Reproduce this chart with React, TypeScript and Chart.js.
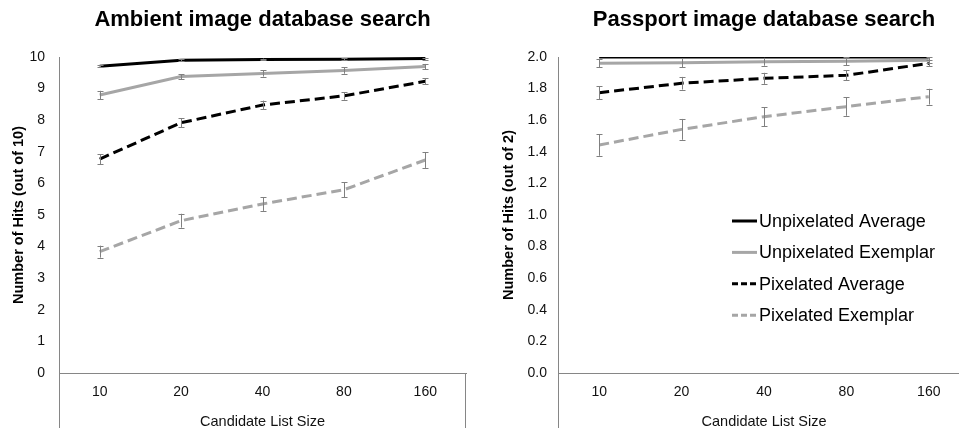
import React, { useEffect, useRef } from "react";
import { Chart, registerables } from "chart.js";

Chart.register(...registerables);

// ---------- data ----------
const categories = ["10", "20", "40", "80", "160"];
const seriesLabels = [
  "Unpixelated Average",
  "Unpixelated Exemplar",
  "Pixelated Average",
  "Pixelated Exemplar",
];

const ambientUnpixAvg = [9.71, 9.9, 9.92, 9.93, 9.95];
const ambientUnpixAvgErr = [0.04, 0.03, 0.03, 0.03, 0.03];
const ambientUnpixEx = [8.8, 9.38, 9.48, 9.57, 9.7];
const ambientUnpixExErr = [0.13, 0.08, 0.1, 0.1, 0.08];
const ambientPixAvg = [6.77, 7.92, 8.48, 8.77, 9.23];
const ambientPixAvgErr = [0.16, 0.15, 0.14, 0.12, 0.1];
const ambientPixEx = [3.84, 4.82, 5.35, 5.8, 6.74];
const ambientPixExErr = [0.19, 0.22, 0.22, 0.24, 0.25];

const passportUnpixAvg = [2.0, 2.0, 2.0, 2.0, 2.0];
const passportUnpixAvgErr = [0, 0, 0, 0, 0];
const passportUnpixEx = [1.96, 1.964, 1.97, 1.973, 1.98];
const passportUnpixExErr = [0.026, 0.028, 0.025, 0.025, 0.02];
const passportPixAvg = [1.774, 1.834, 1.865, 1.884, 1.96];
const passportPixAvgErr = [0.042, 0.04, 0.035, 0.032, 0.02];
const passportPixEx = [1.443, 1.542, 1.622, 1.686, 1.749];
const passportPixExErr = [0.068, 0.066, 0.06, 0.058, 0.05];

const ambientTickMax = 10;
const ambientTickStep = 1;
const passportTickMax = 2;
const passportTickStep = 0.2;

// ---------- styles ----------
const FONT = "'Liberation Sans', Arial, Helvetica, sans-serif";
const GRAY = "#a6a6a6";
const AXIS = "#868686";
const ERR = "#808080";
const seriesStyles = [
  { color: "#000000", dash: [] as number[] },
  { color: GRAY, dash: [] as number[] },
  { color: "#000000", dash: [10, 5] },
  { color: GRAY, dash: [10, 5] },
];

function buildDatasets(values: number[][], errors: number[][]) {
  return values.map((v, i) => ({
    label: seriesLabels[i],
    data: v,
    errors: errors[i],
    borderColor: seriesStyles[i].color,
    backgroundColor: seriesStyles[i].color,
    borderDash: seriesStyles[i].dash,
    borderWidth: 3,
    pointRadius: 0,
    tension: 0,
    fill: false,
  }));
}

const errorBarPlugin = {
  id: "errorBars",
  afterDatasetsDraw(chart: any) {
    const { ctx } = chart;
    const yScale = chart.scales.y;
    ctx.save();
    ctx.strokeStyle = ERR;
    ctx.lineWidth = 1;
    chart.data.datasets.forEach((ds: any, di: number) => {
      const meta = chart.getDatasetMeta(di);
      (ds.errors || []).forEach((e: number, i: number) => {
        if (!e) return;
        const pt = meta.data[i];
        if (!pt) return;
        const x = Math.round(pt.x) + 0.5;
        const yTop = yScale.getPixelForValue(ds.data[i] + e);
        const yBot = yScale.getPixelForValue(ds.data[i] - e);
        ctx.beginPath();
        ctx.moveTo(x, yTop);
        ctx.lineTo(x, yBot);
        ctx.moveTo(x - 3, Math.round(yTop) + 0.5);
        ctx.lineTo(x + 3, Math.round(yTop) + 0.5);
        ctx.moveTo(x - 3, Math.round(yBot) + 0.5);
        ctx.lineTo(x + 3, Math.round(yBot) + 0.5);
        ctx.stroke();
      });
    });
    ctx.restore();
  },
};

const framePlugin = {
  id: "frame",
  afterDraw(chart: any) {
    const { ctx, chartArea } = chart;
    const { left, right, bottom } = chartArea;
    ctx.save();
    ctx.strokeStyle = AXIS;
    ctx.lineWidth = 1;
    ctx.beginPath();
    ctx.moveTo(Math.round(left) + 0.5, bottom);
    ctx.lineTo(Math.round(left) + 0.5, chart.height - 7);
    ctx.moveTo(Math.round(right) - 0.5, bottom);
    ctx.lineTo(Math.round(right) - 0.5, chart.height - 7);
    ctx.stroke();
    ctx.restore();
  },
};

// title centred over the plot area (as in the reference)
const plotTitlePlugin = {
  id: "plotTitle",
  afterDraw(chart: any, _args: any, opts: any) {
    const { ctx, chartArea } = chart;
    ctx.save();
    ctx.font = `bold 22px ${FONT}`;
    ctx.fillStyle = "#000";
    ctx.textAlign = "center";
    ctx.textBaseline = "middle";
    ctx.fillText(opts.text, (chartArea.left + chartArea.right) / 2, 20);
    ctx.restore();
  },
};

const legendPlugin = {
  id: "insideLegend",
  afterDraw(chart: any) {
    const { ctx, chartArea } = chart;
    const x0 = chartArea.left + 174;
    const y0 = chartArea.top + 164;
    const step = 31.4;
    ctx.save();
    ctx.font = `18px ${FONT}`;
    ctx.textBaseline = "middle";
    ctx.textAlign = "left";
    chart.data.datasets.forEach((ds: any, i: number) => {
      const y = y0 + i * step;
      ctx.strokeStyle = ds.borderColor;
      ctx.lineWidth = 3;
      ctx.setLineDash(ds.borderDash.length ? [6, 3] : []);
      ctx.beginPath();
      ctx.moveTo(x0, y);
      ctx.lineTo(x0 + 25, y);
      ctx.stroke();
      ctx.setLineDash([]);
      ctx.fillStyle = "#000";
      ctx.fillText(ds.label, x0 + 27, y + 1);
    });
    ctx.restore();
  },
};

function makeOptions(p: {
  title: string;
  yTitle: string;
  yMax: number;
  yStep: number;
  decimals: number;
  yWidth: number;
  yTitlePad: number;
  yTickPad: number;
  padRight: number;
}): any {
  return {
    responsive: false,
    animation: false,
    layout: { padding: { left: 0, right: p.padRight, top: 57, bottom: 0 } },
    plugins: {
      legend: { display: false },
      tooltip: { enabled: false },
      title: { display: false },
      plotTitle: { text: p.title },
    },
    scales: {
      x: {
        type: "category",
        offset: true,
        grid: { display: false, drawTicks: false },
        border: { display: true, color: AXIS, width: 1 },
        ticks: {
          color: "#111",
          font: { family: FONT, size: 14 },
          padding: 11,
          maxRotation: 0,
        },
        title: {
          display: true,
          text: "Candidate List Size",
          color: "#111",
          font: { family: FONT, size: 14.5 },
          padding: { top: 0, bottom: 4.8 },
        },
        afterFit(scale: any) {
          scale.height = 62;
        },
      },
      y: {
        min: 0,
        max: p.yMax,
        grid: { display: false, drawTicks: false },
        border: { display: true, color: AXIS, width: 1 },
        ticks: {
          stepSize: p.yStep,
          color: "#111",
          font: { family: FONT, size: 14 },
          padding: p.yTickPad,
          callback: (v: any) => Number(v).toFixed(p.decimals),
        },
        title: {
          display: true,
          text: p.yTitle,
          color: "#000",
          font: { family: FONT, size: 14.5, weight: "bold" },
          padding: { top: p.yTitlePad, bottom: 0 },
        },
        afterFit(scale: any) {
          scale.width = p.yWidth;
        },
      },
    },
  };
}

function ChartCanvas(props: {
  width: number;
  height: number;
  left: number;
  config: any;
}) {
  const ref = useRef<HTMLCanvasElement | null>(null);
  useEffect(() => {
    if (!ref.current) return;
    const chart = new Chart(ref.current, props.config);
    return () => chart.destroy();
  }, []);
  return (
    <canvas
      ref={ref}
      width={props.width}
      height={props.height}
      style={{
        position: "absolute",
        left: props.left,
        top: 0,
        width: props.width,
        height: props.height,
      }}
    />
  );
}

export default function App() {
  const ambientConfig = {
    type: "line",
    data: {
      labels: categories,
      datasets: buildDatasets(
        [ambientUnpixAvg, ambientUnpixEx, ambientPixAvg, ambientPixEx],
        [ambientUnpixAvgErr, ambientUnpixExErr, ambientPixAvgErr, ambientPixExErr]
      ),
    },
    options: makeOptions({
      title: "Ambient image database search",
      yTitle: "Number of Hits (out of 10)",
      yMax: ambientTickMax,
      yStep: ambientTickStep,
      decimals: 0,
      yWidth: 59,
      yTitlePad: 10.5,
      yTickPad: 14,
      padRight: 14,
    }),
    plugins: [errorBarPlugin, framePlugin, plotTitlePlugin],
  };
  const passportConfig = {
    type: "line",
    data: {
      labels: categories,
      datasets: buildDatasets(
        [passportUnpixAvg, passportUnpixEx, passportPixAvg, passportPixEx],
        [passportUnpixAvgErr, passportUnpixExErr, passportPixAvgErr, passportPixExErr]
      ),
    },
    options: makeOptions({
      title: "Passport image database search",
      yTitle: "Number of Hits (out of 2)",
      yMax: passportTickMax,
      yStep: passportTickStep,
      decimals: 1,
      yWidth: 78,
      yTitlePad: 20,
      yTickPad: 11,
      padRight: 10,
    }),
    plugins: [errorBarPlugin, framePlugin, legendPlugin, plotTitlePlugin],
  };
  return (
    <div
      style={{
        position: "fixed",
        left: 0,
        top: 0,
        width: 959,
        height: 435,
        overflow: "hidden",
        background: "#fff",
      }}
    >
      <ChartCanvas width={480} height={435} left={0} config={ambientConfig} />
      <ChartCanvas width={500} height={435} left={480} config={passportConfig} />
    </div>
  );
}
